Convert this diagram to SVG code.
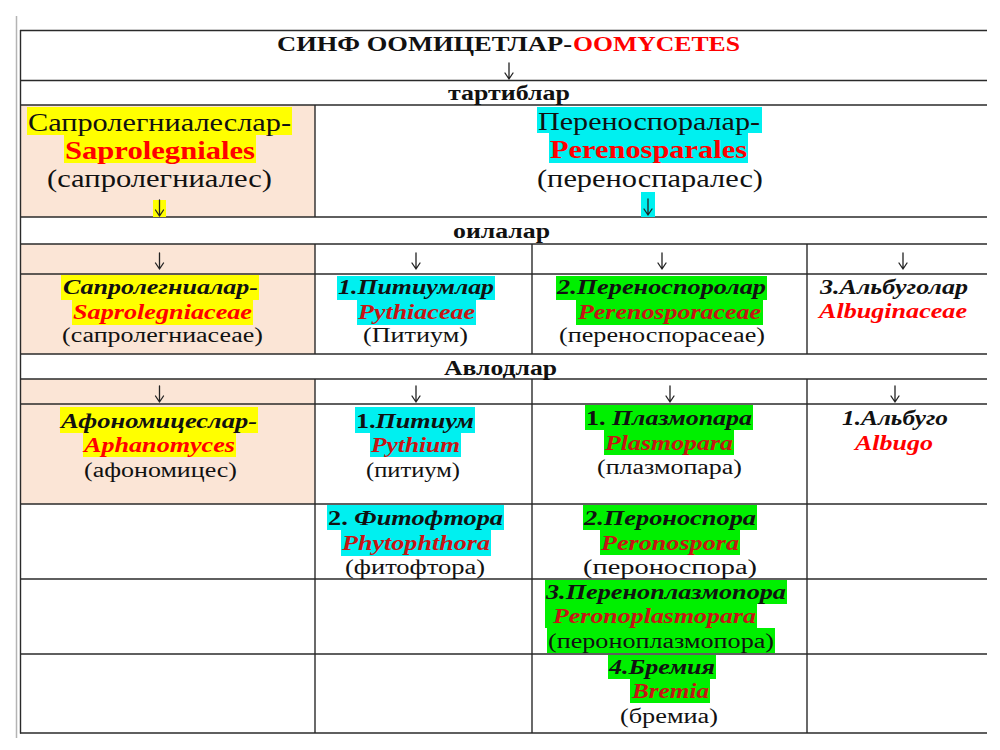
<svg xmlns="http://www.w3.org/2000/svg" width="1000" height="750" viewBox="0 0 1000 750" font-family="'Liberation Serif', 'Times New Roman', Tinos, 'DejaVu Serif', serif">
<style>
.tx{font-family:'Liberation Serif','Times New Roman',Tinos,'DejaVu Serif',serif;fill:#111}
.t{font-size:22px;font-weight:bold}
.h{font-size:20px;font-weight:bold}
.o{font-size:26px}
.ob{font-size:26px;font-weight:bold}
.f{font-size:20px}
.fb{font-size:20px;font-weight:bold;font-style:italic}
.up{font-style:normal}
.red{fill:#ff0000}
.dred{fill:#c81414}
.y{fill:#ffff00}
.c{fill:#00f0f0}
.g{fill:#00f000}
.peach{fill:#fbe5d6}
.grid line{stroke:#2a2a2a;stroke-width:1.4}
.arr{fill:none;stroke:#222;stroke-width:1.3;stroke-linecap:round;stroke-linejoin:round}
</style>
<defs>
<path id="ah" d="M0,0 V16 M-4,10 L0,16 L4,10"/>
</defs>
<rect width="1000" height="750" fill="#ffffff"/>
<line x1="16.5" y1="16" x2="16.5" y2="738" stroke="#b4b4b4" stroke-width="1.5"/>
<g id="backgrounds">
<rect class="peach" x="20" y="105" width="295" height="112"/>
<rect class="peach" x="20" y="244" width="295" height="110"/>
<rect class="peach" x="20" y="379" width="295" height="125"/>
</g>
<g id="grid" class="grid">
<line x1="20" y1="30.5" x2="987" y2="30.5"/>
<line x1="20" y1="80.5" x2="987" y2="80.5"/>
<line x1="20" y1="105" x2="987" y2="105"/>
<line x1="20" y1="217" x2="987" y2="217"/>
<line x1="20" y1="244" x2="987" y2="244"/>
<line x1="20" y1="274" x2="987" y2="274"/>
<line x1="20" y1="354" x2="987" y2="354"/>
<line x1="20" y1="379" x2="987" y2="379"/>
<line x1="20" y1="404" x2="987" y2="404"/>
<line x1="20" y1="504" x2="987" y2="504"/>
<line x1="20" y1="579" x2="987" y2="579"/>
<line x1="20" y1="654" x2="987" y2="654"/>
<line x1="20" y1="733" x2="987" y2="733"/>
<line x1="20.5" y1="30" x2="20.5" y2="733.5"/>
<line x1="315" y1="105" x2="315" y2="217"/>
<line x1="315" y1="244" x2="315" y2="354"/>
<line x1="315" y1="379" x2="315" y2="733"/>
<line x1="532" y1="244" x2="532" y2="354"/>
<line x1="532" y1="379" x2="532" y2="733"/>
<line x1="807" y1="244" x2="807" y2="354"/>
<line x1="807" y1="379" x2="807" y2="733"/>
</g>
<g class="tx">
<g id="title">
<text class="t" x="277" y="51" textLength="295" lengthAdjust="spacingAndGlyphs">СИНФ ООМИЦЕТЛАР-</text>
<text class="t red" x="573" y="51" textLength="167" lengthAdjust="spacingAndGlyphs">OOMYCETES</text>
</g>
<g id="label-tartiblar"><text class="h" x="448" y="100" textLength="122" lengthAdjust="spacingAndGlyphs">тартиблар</text></g>
<g id="label-oilalar"><text class="h" x="453" y="238" textLength="97" lengthAdjust="spacingAndGlyphs">оилалар</text></g>
<g id="label-avlodlar"><text class="h" x="444" y="375" textLength="113" lengthAdjust="spacingAndGlyphs">Авлодлар</text></g>
<g id="order-saprolegniales">
<rect class="y" x="27" y="107" width="265" height="28"/>
<rect class="y" x="64" y="135" width="192" height="28"/>
<rect class="y" x="153" y="200" width="13" height="17"/>
<text class="o" x="28" y="131" textLength="263" lengthAdjust="spacingAndGlyphs">Сапролегниалеслар-</text>
<text class="ob red" x="65" y="159" textLength="190" lengthAdjust="spacingAndGlyphs">Saprolegniales</text>
<text class="o" x="47" y="187" textLength="225" lengthAdjust="spacingAndGlyphs">(сапролегниалес)</text>
</g>
<g id="order-perenosporales">
<rect class="c" x="537" y="107" width="225" height="26"/>
<rect class="c" x="549" y="133" width="199" height="30"/>
<rect class="c" x="641" y="192" width="14" height="25"/>
<text class="o" x="538" y="130" textLength="222" lengthAdjust="spacingAndGlyphs">Переноспоралар-</text>
<text class="ob red" x="550" y="158" textLength="197" lengthAdjust="spacingAndGlyphs">Perenosparales</text>
<text class="o" x="537" y="187" textLength="226" lengthAdjust="spacingAndGlyphs">(переноспаралес)</text>
</g>
<g id="family-saprolegniaceae">
<rect class="y" x="61" y="275" width="198" height="25"/>
<rect class="y" x="72" y="300" width="181" height="25"/>
<text class="fb" x="63" y="294" textLength="195" lengthAdjust="spacingAndGlyphs">Сапролегниалар-</text>
<text class="fb red" x="73" y="319" textLength="179" lengthAdjust="spacingAndGlyphs">Saprolegniaceae</text>
<text class="f" x="62" y="342" textLength="201" lengthAdjust="spacingAndGlyphs">(сапролегниасеае)</text>
</g>
<g id="family-pythiaceae">
<rect class="c" x="337" y="276" width="158" height="24"/>
<rect class="c" x="357" y="300" width="119" height="25"/>
<text class="fb" x="338" y="294" textLength="156" lengthAdjust="spacingAndGlyphs">1.Питиумлар</text>
<text class="fb dred" x="358" y="319" textLength="117" lengthAdjust="spacingAndGlyphs">Pythiaceae</text>
<text class="f" x="363" y="342" textLength="105" lengthAdjust="spacingAndGlyphs">(Питиум)</text>
</g>
<g id="family-perenosporaceae">
<rect class="g" x="556" y="276" width="211" height="24"/>
<rect class="g" x="576" y="300" width="187" height="25"/>
<text class="fb" x="557" y="294" textLength="209" lengthAdjust="spacingAndGlyphs">2.Переноспоролар</text>
<text class="fb dred" x="578" y="319" textLength="183" lengthAdjust="spacingAndGlyphs">Perenosporaceae</text>
<text class="f" x="559" y="342" textLength="206" lengthAdjust="spacingAndGlyphs">(переноспорасеае)</text>
</g>
<g id="family-albuginaceae">
<text class="fb" x="820" y="294" textLength="148" lengthAdjust="spacingAndGlyphs">3.Альбуголар</text>
<text class="fb red" x="819" y="318" textLength="148" lengthAdjust="spacingAndGlyphs">Albuginaceae</text>
</g>
<g id="genus-aphanomyces">
<rect class="y" x="60" y="407" width="198" height="26"/>
<rect class="y" x="83" y="433" width="153" height="24"/>
<text class="fb" x="61" y="428" textLength="196" lengthAdjust="spacingAndGlyphs">Афономицеслар-</text>
<text class="fb red" x="84" y="452" textLength="151" lengthAdjust="spacingAndGlyphs">Aphanomyces</text>
<text class="f" x="84" y="477" textLength="153" lengthAdjust="spacingAndGlyphs">(афономицес)</text>
</g>
<g id="genus-pythium">
<rect class="c" x="355" y="407" width="120" height="26"/>
<rect class="c" x="370" y="433" width="91" height="24"/>
<text class="fb" x="356" y="428" textLength="118" lengthAdjust="spacingAndGlyphs"><tspan class="up">1.</tspan>Питиум</text>
<text class="fb dred" x="371" y="452" textLength="89" lengthAdjust="spacingAndGlyphs">Pythium</text>
<text class="f" x="366" y="477" textLength="94" lengthAdjust="spacingAndGlyphs">(питиум)</text>
</g>
<g id="genus-phytophthora">
<rect class="c" x="327" y="505" width="177" height="25"/>
<rect class="c" x="341" y="530" width="150" height="26"/>
<text class="fb" x="328" y="525" textLength="175" lengthAdjust="spacingAndGlyphs"><tspan class="up">2. </tspan>Фитофтора</text>
<text class="fb dred" x="342" y="550" textLength="148" lengthAdjust="spacingAndGlyphs">Phytophthora</text>
<text class="f" x="345" y="574" textLength="140" lengthAdjust="spacingAndGlyphs">(фитофтора)</text>
</g>
<g id="genus-plasmopara">
<rect class="g" x="585" y="405" width="168" height="25"/>
<rect class="g" x="604" y="430" width="130" height="25"/>
<text class="fb" x="586" y="425" textLength="166" lengthAdjust="spacingAndGlyphs"><tspan class="up">1. </tspan>Плазмопара</text>
<text class="fb dred" x="605" y="450" textLength="128" lengthAdjust="spacingAndGlyphs">Plasmopara</text>
<text class="f" x="597" y="474" textLength="145" lengthAdjust="spacingAndGlyphs">(плазмопара)</text>
</g>
<g id="genus-peronospora">
<rect class="g" x="583" y="505" width="174" height="25"/>
<rect class="g" x="600" y="530" width="140" height="25"/>
<text class="fb" x="584" y="525" textLength="172" lengthAdjust="spacingAndGlyphs">2.Пероноспора</text>
<text class="fb dred" x="601" y="550" textLength="138" lengthAdjust="spacingAndGlyphs">Peronospora</text>
<text class="f" x="583" y="574" textLength="174" lengthAdjust="spacingAndGlyphs">(пероноспора)</text>
</g>
<g id="genus-peronoplasmopara">
<rect class="g" x="545" y="580" width="242" height="24"/>
<rect class="g" x="545" y="604" width="212" height="24"/>
<rect class="g" x="547" y="628" width="228" height="25"/>
<text class="fb" x="546" y="599" textLength="240" lengthAdjust="spacingAndGlyphs">3.Переноплазмопора</text>
<text class="fb dred" x="553" y="623" textLength="203" lengthAdjust="spacingAndGlyphs">Peronoplasmopara</text>
<text class="f" x="548" y="648" textLength="226" lengthAdjust="spacingAndGlyphs">(пероноплазмопора)</text>
</g>
<g id="genus-bremia">
<rect class="g" x="608" y="655" width="108" height="24"/>
<rect class="g" x="630" y="679" width="80" height="24"/>
<text class="fb" x="609" y="674" textLength="106" lengthAdjust="spacingAndGlyphs">4.Бремия</text>
<text class="fb dred" x="632" y="698" textLength="77" lengthAdjust="spacingAndGlyphs">Bremia</text>
<text class="f" x="620" y="723" textLength="98" lengthAdjust="spacingAndGlyphs">(бремиа)</text>
</g>
<g id="genus-albugo">
<text class="fb" x="842" y="425" textLength="106" lengthAdjust="spacingAndGlyphs">1.Альбуго</text>
<text class="fb red" x="855" y="450" textLength="78" lengthAdjust="spacingAndGlyphs">Albugo</text>
</g>
</g>
<g id="connectors" class="arr">
<use href="#ah" x="509" y="63"/>
<use href="#ah" x="159.5" y="200"/>
<use href="#ah" x="648" y="199"/>
<use href="#ah" x="159.5" y="253"/>
<use href="#ah" x="416" y="253"/>
<use href="#ah" x="662" y="253"/>
<use href="#ah" x="903" y="253"/>
<use href="#ah" x="159.5" y="386"/>
<use href="#ah" x="416" y="386"/>
<use href="#ah" x="670" y="386"/>
<use href="#ah" x="895" y="386"/>
</g>
</svg>
